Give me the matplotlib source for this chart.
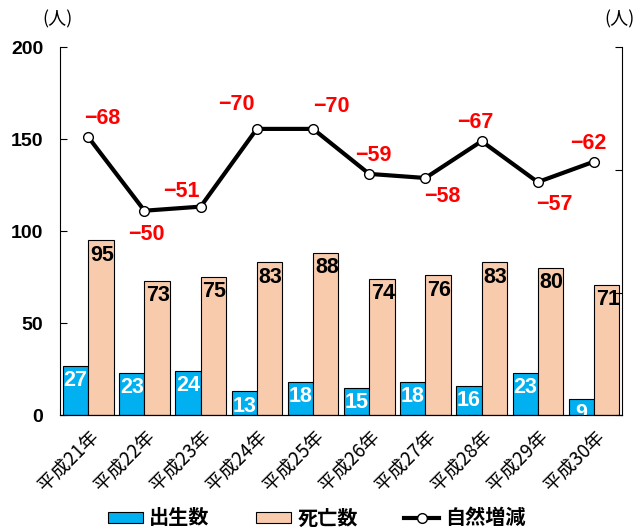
import matplotlib
matplotlib.use("Agg")
import matplotlib.pyplot as plt
import numpy as np

plt.rcParams['font.family'] = ['Liberation Sans', 'Noto Sans CJK JP', 'DejaVu Sans']

years = ['平成21年', '平成22年', '平成23年', '平成24年', '平成25年',
         '平成26年', '平成27年', '平成28年', '平成29年', '平成30年']
births = [27, 23, 24, 13, 18, 15, 18, 16, 23, 9]
deaths = [95, 73, 75, 83, 88, 74, 76, 83, 80, 71]
natural = [-68, -50, -51, -70, -70, -59, -58, -67, -57, -62]
# label placement for the natural change values (pixels): dx, dy (+ above / - below)
label_dx = [14, 2, -19, -20, 18, 4, 17, -6, 17, -6]
label_dy = [8, -13, 5, 14, 12, 8, -8, 8, -12, 8]

fig = plt.figure(figsize=(6.4, 5.29), dpi=100)
ax = fig.add_axes([0.094, 0.215, 0.878, 0.696])
x = np.arange(len(years))
w = 0.45

b1 = ax.bar(x - w / 2, births, w, color='#00b0f0', edgecolor='black', linewidth=0.8)
b2 = ax.bar(x + w / 2, deaths, w, color='#f8cbad', edgecolor='black', linewidth=0.8)

for xi, v in zip(x, births):
    ax.text(xi - w / 2, v - 2.3, str(v), ha='center', va='top', color='white',
            fontsize=15.5, fontweight='bold')
for xi, v in zip(x, deaths):
    ax.text(xi + w / 2 + 0.02, v - 2.3, str(v), ha='center', va='top', color='black',
            fontsize=15.5, fontweight='bold')

ax.set_xlim(-0.5, len(years) - 0.5)
ax.set_ylim(0, 200)
ax.set_yticks([0, 50, 100, 150, 200])
ax.tick_params(axis='y', direction='in', length=5, labelsize=14, pad=12)
for lbl in ax.get_yticklabels():
    lbl.set_fontweight('bold')
ax.tick_params(axis='x', length=0, pad=8)
ax.set_xticks(x)
ax.set_xticklabels(years, rotation=45, ha='right', rotation_mode='anchor',
                   fontsize=13.5, family=['Noto Sans CJK JP'])
ax.spines['top'].set_visible(False)
ax.spines['right'].set_visible(False)

ax2 = ax.twinx()
ax2.set_ylim(0, -90)
ax2.set_yticks([0, -30, -60, -90])
ax2.set_yticklabels([])
ax2.tick_params(axis='y', direction='in', length=5)
ax2.spines['top'].set_visible(False)
ax2.spines['left'].set_visible(False)
ln, = ax2.plot(x, natural, color='black', linewidth=3, marker='o', markersize=7,
               markerfacecolor='white', markeredgecolor='black', markeredgewidth=1)
for xi, v, dx, dy in zip(x, natural, label_dx, label_dy):
    ax2.annotate(f'−{abs(v)}', (xi, v), xytext=(dx, dy), textcoords='offset pixels',
                 ha='center', va='bottom' if dy > 0 else 'top', color='red',
                 fontsize=15.5, fontweight='bold')

fig.text(0.09, 0.964, '(人)', ha='center', va='center', fontsize=13, family=['Noto Sans CJK JP'])
fig.text(0.968, 0.964, '(人)', ha='center', va='center', fontsize=13, family=['Noto Sans CJK JP'])

fig.legend([b1, b2, ln], ['出生数', '死亡数', '自然増減'], loc='center',
           bbox_to_anchor=(0.495, 0.021), ncol=3, frameon=False, handlelength=1.75,
           handleheight=0.5, handletextpad=0.3, columnspacing=2.3,
           prop={'family': 'Noto Sans CJK JP', 'weight': 'bold', 'size': 14.5})

fig.savefig('out.png', dpi=100)
